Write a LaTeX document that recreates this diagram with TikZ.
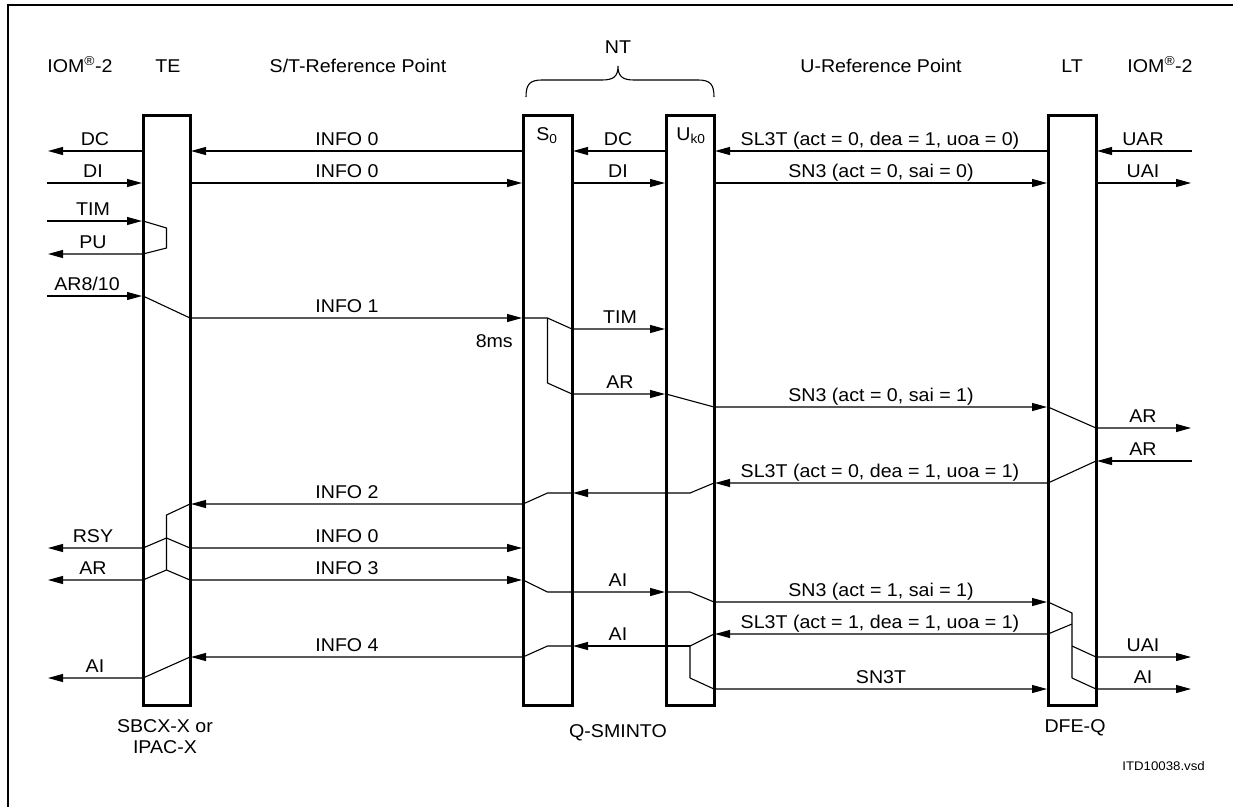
\documentclass[tikz,border=0pt]{standalone}
\usepackage{fontspec}
\setmainfont[FakeStretch=1.06]{Liberation Sans}
\usetikzlibrary{arrows.meta}
\tikzset{
  box/.style={draw, line width=3pt, minimum width=#1, minimum height=590pt, inner sep=0pt, outer sep=0pt},
  ln/.style={line width=1.1pt, line join=miter},
  ar/.style={ln, -{Triangle[length=15pt,width=8pt]}, shorten >=1pt},
  lab/.style={anchor=base, inner sep=0pt, font=\fontsize{18.5}{22}\selectfont},
  small/.style={anchor=base east, inner sep=0pt, font=\fontsize{12.5}{15}\selectfont},
}
\begin{document}
\begin{tikzpicture}[x=1pt,y=-1pt]
\useasboundingbox (0,0) rectangle (1233,806);
\draw[line width=2.5pt] (8,810) -- (8,5) -- (1236,5);
\coordinate (IL) at (47,0);
\coordinate (IR) at (1192,0);
\node[box=47pt] (TE) at (166.5,410) {};
\node[box=49pt] (S0) at (547.5,410) {};
\node[box=48pt] (UK) at (690,410) {};
\node[box=48pt] (LT) at (1072,410) {};

% headers
\node[lab] (h1) at (80,72) {IOM\textsuperscript{\textregistered}-2};
\node[lab] (h2) at (168,72) {TE};
\node[lab] (h3) at (358,72) {S/T-Reference Point};
\node[lab] (h4) at (618,53) {NT};
\node[lab] (h5) at (881,72) {U-Reference Point};
\node[lab] (h6) at (1072,72) {LT};
\node[lab] (h7) at (1160,72) {IOM\textsuperscript{\textregistered}-2};
\draw[ln] (526,97) .. controls (526,84) and (530,80) .. (542,80) -- (602,80)
  .. controls (614,80) and (618,76) .. (618,66)
  .. controls (618,76) and (622,80) .. (634,80) -- (698,80)
  .. controls (710,80) and (714,84) .. (714,97);
\node[lab] (s0l) at (547,140) {S\textsubscript{0}};
\node[lab] (ukl) at (691,140) {U\textsubscript{k0}};

% row 1
\draw[ar] (TE.west|-0,151) -- (IL|-0,151);
\draw[ar] (S0.west|-0,151) -- (TE.east|-0,151);
\draw[ar] (UK.west|-0,151) -- (S0.east|-0,151);
\draw[ar] (LT.west|-0,151) -- (UK.east|-0,151);
\draw[ar] (IR|-0,151) -- (LT.east|-0,151);
% row 2
\draw[ar] (IL|-0,183) -- (TE.west|-0,183);
\draw[ar] (TE.east|-0,183) -- (S0.west|-0,183);
\draw[ar] (S0.east|-0,183) -- (UK.west|-0,183);
\draw[ar] (UK.east|-0,183) -- (LT.west|-0,183);
\draw[ar] (LT.east|-0,183) -- (IR|-0,183);
% TIM / PU
\draw[ar] (IL|-0,221) -- (TE.west|-0,221);
\draw[ar] (TE.west|-0,221) -- (TE.center|-0,228) -- (TE.center|-0,248) -- (TE.west|-0,254) -- (IL|-0,254);
% AR8/10 -> INFO 1
\draw[ar] (IL|-0,296) -- (TE.west|-0,296);
\draw[ar] (TE.west|-0,296) -- (TE.east|-0,318) -- (S0.west|-0,318);
\draw[ar] (S0.west|-0,318) -- (S0.center|-0,318) -- (S0.east|-0,329) -- (UK.west|-0,329);
\draw[ar] (S0.center|-0,318) -- (S0.center|-0,383) -- (S0.east|-0,394) -- (UK.west|-0,394);
\draw[ar] (UK.west|-0,394) -- (UK.east|-0,407) -- (LT.west|-0,407);
\draw[ar] (LT.west|-0,407) -- (LT.east|-0,428) -- (IR|-0,428);
% AR from right
\draw[ar] (IR|-0,461) -- (LT.east|-0,461);
\draw[ar] (LT.east|-0,461) -- (LT.west|-0,483) -- (UK.east|-0,483);
\draw[ar] (UK.east|-0,483) -- (UK.center|-0,493) -- (S0.east|-0,493);
\draw[ar] (S0.east|-0,493) -- (S0.center|-0,493) -- (S0.west|-0,504) -- (TE.east|-0,504);
\draw[ln] (TE.east|-0,504) -- (TE.center|-0,515) -- (TE.center|-0,570);
\draw[ar] (TE.center|-0,538) -- (TE.west|-0,548) -- (IL|-0,548);
\draw[ar] (TE.center|-0,538) -- (TE.east|-0,548) -- (S0.west|-0,548);
\draw[ar] (TE.center|-0,570) -- (TE.west|-0,580) -- (IL|-0,580);
\draw[ar] (TE.center|-0,570) -- (TE.east|-0,580) -- (S0.west|-0,580);
\draw[ar] (S0.west|-0,580) -- (S0.center|-0,592) -- (UK.west|-0,592);
\draw[ar] (UK.west|-0,592) -- (UK.center|-0,592) -- (UK.east|-0,602) -- (LT.west|-0,602);
\draw[ln] (LT.west|-0,602) -- (LT.center|-0,613) -- (LT.center|-0,678);
\draw[ar] (LT.center|-0,624) -- (LT.west|-0,634) -- (UK.east|-0,634);
\draw[ar] (LT.center|-0,646) -- (LT.east|-0,657) -- (IR|-0,657);
\draw[ar] (LT.center|-0,678) -- (LT.east|-0,689) -- (IR|-0,689);
\draw[ln] (UK.east|-0,634) -- (UK.center|-0,646) -- (UK.center|-0,678);
\draw[ar] (UK.center|-0,678) -- (UK.east|-0,689) -- (LT.west|-0,689);
\draw[ar] (UK.center|-0,646) -- (S0.east|-0,646);
\draw[ar] (S0.east|-0,646) -- (S0.center|-0,646) -- (S0.west|-0,657) -- (TE.east|-0,657);
\draw[ar] (TE.east|-0,657) -- (TE.west|-0,678) -- (IL|-0,678);

% labels
\node[lab] (a1) at (95,145) {DC};
\node[lab] (a2) at (347,145) {INFO 0};
\node[lab] (a3) at (618,145) {DC};
\node[lab] (a4) at (880,145) {SL3T (act = 0, dea = 1, uoa = 0)};
\node[lab] (a5) at (1143,145) {UAR};
\node[lab] (b1) at (93,177) {DI};
\node[lab] (b2) at (347,177) {INFO 0};
\node[lab] (b3) at (618,177) {DI};
\node[lab] (b4) at (881,177) {SN3 (act = 0, sai = 0)};
\node[lab] (b5) at (1143,177) {UAI};
\node[lab] (c1) at (93,215) {TIM};
\node[lab] (c2) at (93,248) {PU};
\node[lab] (d1) at (87,290) {AR8/10};
\node[lab] (d2) at (347,312) {INFO 1};
\node[lab, anchor=base east] (d3) at (513,347) {8ms};
\node[lab] (d4) at (620,323) {TIM};
\node[lab] (d5) at (620,388) {AR};
\node[lab] (d6) at (881,401) {SN3 (act = 0, sai = 1)};
\node[lab] (d7) at (1143,422) {AR};
\node[lab] (e1) at (1143,455) {AR};
\node[lab] (e2) at (880,477) {SL3T (act = 0, dea = 1, uoa = 1)};
\node[lab] (e3) at (347,498) {INFO 2};
\node[lab] (f1) at (93,542) {RSY};
\node[lab] (f2) at (347,542) {INFO 0};
\node[lab] (f3) at (93,574) {AR};
\node[lab] (f4) at (347,574) {INFO 3};
\node[lab] (f5) at (618,586) {AI};
\node[lab] (f6) at (881,596) {SN3 (act = 1, sai = 1)};
\node[lab] (g1) at (880,628) {SL3T (act = 1, dea = 1, uoa = 1)};
\node[lab] (g2) at (618,640) {AI};
\node[lab] (g3) at (347,651) {INFO 4};
\node[lab] (g4) at (1143,651) {UAI};
\node[lab] (g5) at (95,672) {AI};
\node[lab] (g6) at (881,683) {SN3T};
\node[lab] (g7) at (1143,683) {AI};

% bottom
\node[lab] (n1) at (165,732) {SBCX-X or};
\node[lab] (n2) at (165,753) {IPAC-X};
\node[lab] (n3) at (618,737) {Q-SMINTO};
\node[lab] (n4) at (1075,732) {DFE-Q};
\node[small] (n5) at (1205,770) {ITD10038.vsd};
\end{tikzpicture}
\end{document}
